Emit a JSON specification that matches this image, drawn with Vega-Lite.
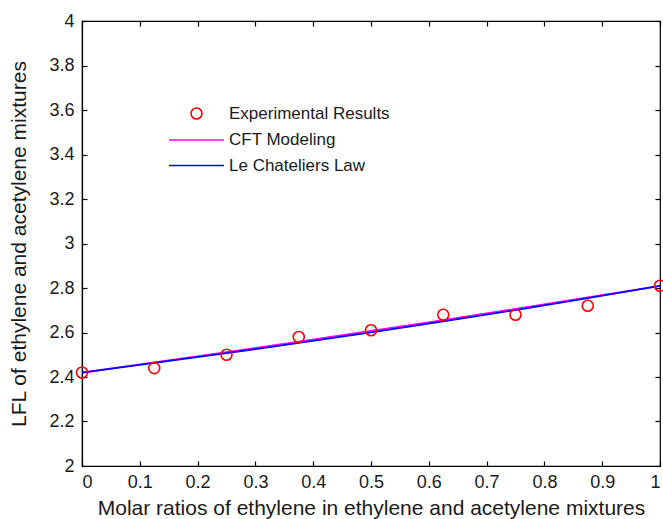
{
  "$schema": "https://vega.github.io/schema/vega-lite/v6.json",
  "width": 578,
  "height": 445,
  "autosize": "none",
  "padding": {"left": 82, "top": 21, "right": 3, "bottom": 53},
  "background": "white",
  "config": {
    "font": "Liberation Sans",
    "view": {"stroke": "black", "strokeWidth": 1.2},
    "axis": {"grid": false, "labelFont": "Liberation Sans", "titleFont": "Liberation Sans", "labelColor": "#1a1a1a", "titleColor": "#1a1a1a", "titleFontWeight": "normal", "domainColor": "black", "tickColor": "black", "domainWidth": 1.2, "tickWidth": 1.2}
  },
  "datasets": {
    "exp": [
      {"x": 0, "y": 2.42, "series": "Experimental Results"},
      {"x": 0.125, "y": 2.44, "series": "Experimental Results"},
      {"x": 0.25, "y": 2.5, "series": "Experimental Results"},
      {"x": 0.375, "y": 2.58, "series": "Experimental Results"},
      {"x": 0.5, "y": 2.61, "series": "Experimental Results"},
      {"x": 0.625, "y": 2.68, "series": "Experimental Results"},
      {"x": 0.75, "y": 2.68, "series": "Experimental Results"},
      {"x": 0.875, "y": 2.72, "series": "Experimental Results"},
      {"x": 1, "y": 2.81, "series": "Experimental Results"}
    ],
    "lines": [
      {"x": 0, "y": 2.42, "series": "CFT Modeling"},
      {"x": 0.125, "y": 2.466, "series": "CFT Modeling"},
      {"x": 0.25, "y": 2.512, "series": "CFT Modeling"},
      {"x": 0.375, "y": 2.559, "series": "CFT Modeling"},
      {"x": 0.5, "y": 2.607, "series": "CFT Modeling"},
      {"x": 0.625, "y": 2.656, "series": "CFT Modeling"},
      {"x": 0.75, "y": 2.706, "series": "CFT Modeling"},
      {"x": 0.875, "y": 2.758, "series": "CFT Modeling"},
      {"x": 1, "y": 2.81, "series": "CFT Modeling"},
      {"x": 0, "y": 2.42, "series": "Le Chateliers Law"},
      {"x": 0.125, "y": 2.463, "series": "Le Chateliers Law"},
      {"x": 0.25, "y": 2.507, "series": "Le Chateliers Law"},
      {"x": 0.375, "y": 2.553, "series": "Le Chateliers Law"},
      {"x": 0.5, "y": 2.601, "series": "Le Chateliers Law"},
      {"x": 0.625, "y": 2.65, "series": "Le Chateliers Law"},
      {"x": 0.75, "y": 2.701, "series": "Le Chateliers Law"},
      {"x": 0.875, "y": 2.755, "series": "Le Chateliers Law"},
      {"x": 1, "y": 2.81, "series": "Le Chateliers Law"}
    ]
  },
  "layer": [
    {
      "data": {"name": "lines"},
      "mark": {"type": "line", "strokeWidth": 1.8},
      "encoding": {
        "x": {"field": "x", "type": "quantitative", "scale": {"domain": [0, 1], "nice": false, "zero": false},
              "axis": {"orient": "top", "labels": false, "domain": false, "title": null, "tickSize": -5, "values": [0, 0.1, 0.2, 0.3, 0.4, 0.5, 0.6, 0.7, 0.8, 0.9, 1]}},
        "y": {"field": "y", "type": "quantitative", "scale": {"domain": [2, 4], "nice": false, "zero": false},
              "axis": {"orient": "right", "labels": false, "domain": false, "title": null, "tickSize": -5, "values": [2, 2.2, 2.4, 2.6, 2.8, 3, 3.2, 3.4, 3.6, 3.8, 4]}},
        "color": {"field": "series", "type": "nominal",
                  "scale": {"domain": ["Experimental Results", "CFT Modeling", "Le Chateliers Law"], "range": ["#ff0000", "#ff00ff", "#0000ff"]},
                  "legend": {"title": null, "orient": "none", "legendX": 106, "legendY": 84, "labelFontSize": 17, "labelLimit": 400, "labelFont": "Liberation Sans", "labelColor": "#1a1a1a", "symbolSize": 121, "symbolStrokeWidth": 1.6, "rowPadding": 7.5, "labelOffset": 24, "padding": 0}}
      }
    },
    {
      "data": {"name": "exp"},
      "mark": {"type": "point", "filled": false, "size": 121, "strokeWidth": 1.6, "opacity": 1},
      "encoding": {
        "x": {"field": "x", "type": "quantitative",
              "axis": {"orient": "bottom", "title": "Molar ratios of ethylene in ethylene and acetylene mixtures", "titleFontSize": 21, "titlePadding": 6, "labelFontSize": 18, "labelPadding": 12, "tickSize": -5, "format": "~g", "values": [0, 0.1, 0.2, 0.3, 0.4, 0.5, 0.6, 0.7, 0.8, 0.9, 1]}},
        "y": {"field": "y", "type": "quantitative",
              "axis": {"orient": "left", "title": "LFL of ethylene and acetylene mixtures", "titleFontSize": 21, "titlePadding": 19, "labelFontSize": 18, "labelPadding": 13, "tickSize": -5, "format": "~g", "values": [2, 2.2, 2.4, 2.6, 2.8, 3, 3.2, 3.4, 3.6, 3.8, 4]}},
        "color": {"field": "series", "type": "nominal"},
        "shape": {"field": "series", "type": "nominal",
                  "scale": {"domain": ["Experimental Results", "CFT Modeling", "Le Chateliers Law"], "range": ["circle", "M-5,0L5,0", "M-5,0L5,0"]}}
      }
    }
  ],
  "resolve": {"axis": {"x": "independent", "y": "independent"}}
}
